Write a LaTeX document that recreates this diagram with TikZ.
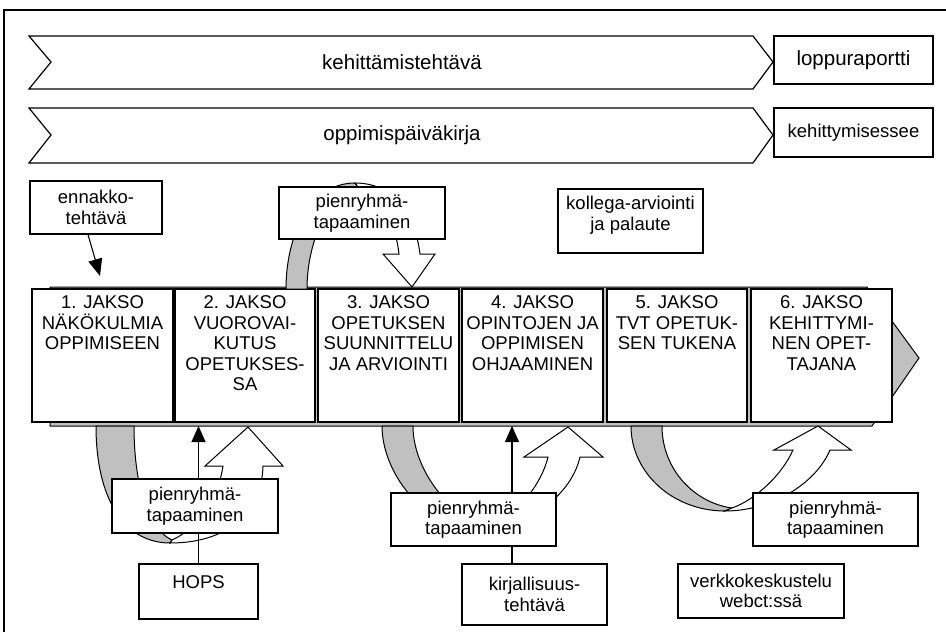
\documentclass[tikz,border=0pt]{standalone}
\usepackage{fontspec}
\setmainfont{Liberation Sans}
\usetikzlibrary{arrows.meta}
\definecolor{bandgray}{RGB}{192,192,192}
\begin{document}
\begin{tikzpicture}[x=1pt,y=-1pt,
  every node/.style={font=\fontsize{18.5}{20.5}\selectfont},
  box/.style={draw, line width=1.2pt, fill=white, inner sep=0pt, align=center},
  lbl/.style={align=center, inner sep=0pt},
  bigfont/.style={font=\fontsize{20.5}{24}\selectfont},
  graypart/.style={draw, fill=bandgray, line width=1pt, line join=round},
  whitepart/.style={draw, fill=white, line width=1pt, line join=miter},
  thinarrow/.style={line width=1.1pt, -{Triangle[length=16pt,width=14pt]}},
]
\clip (0,0) rectangle (946,632);
% frame
\draw[line width=1.6pt] (4,640) -- (4,10) -- (950,10);

% chevrons
\draw[line width=1.2pt] (29,36) -- (753,36) -- (773,62) -- (753,89) -- (29,89) -- (51,62) -- cycle;
\node[bigfont] (kt) at (402,62) {kehittämistehtävä};
\draw[line width=1.2pt] (29,108) -- (753,108) -- (773,135) -- (753,163) -- (29,163) -- (51,135) -- cycle;
\node[bigfont] (op) at (402,135) {oppimispäiväkirja};
\node[box, bigfont, minimum width=159pt, minimum height=48pt] (lr) at (853.5,60) {loppuraportti};
\node[box, minimum width=159pt, minimum height=49pt] (ke) at (853.5,132.5) {kehittymisessee};

% gray process arrow behind the period boxes
\draw[fill=bandgray, line width=1pt] (50,287) -- (867,287) -- (919,358) -- (872,426) -- (50,426) -- cycle;
\coordinate (barbot) at (0,426);

% period boxes
\node[box, minimum width=141pt, minimum height=133pt] (j1) at (102.5,355.5) {};
\node[box, minimum width=140pt, minimum height=133pt] (j2) at (245,355.5) {};
\node[box, minimum width=141pt, minimum height=133pt] (j3) at (388.5,355.5) {};
\node[box, minimum width=141pt, minimum height=133pt] (j4) at (532.5,355.5) {};
\node[box, minimum width=140pt, minimum height=133pt] (j5) at (677,355.5) {};
\node[box, minimum width=141pt, minimum height=133pt] (j6) at (821.5,355.5) {};
\node[lbl, anchor=north] (j1t) at ([yshift=-7pt]j1.north) {1. JAKSO\\NÄKÖKULMIA\\OPPIMISEEN};
\node[lbl, anchor=north] (j2t) at ([yshift=-7pt]j2.north) {2. JAKSO\\VUOROVAI-\\KUTUS\\OPETUKSES-\\SA};
\node[lbl, anchor=north] (j3t) at ([yshift=-7pt]j3.north) {3. JAKSO\\OPETUKSEN\\SUUNNITTELU\\JA ARVIOINTI};
\node[lbl, anchor=north] (j4t) at ([yshift=-7pt]j4.north) {4. JAKSO\\OPINTOJEN JA\\OPPIMISEN\\OHJAAMINEN};
\node[lbl, anchor=north] (j5t) at ([yshift=-7pt]j5.north) {5. JAKSO\\TVT OPETUK-\\SEN TUKENA};
\node[lbl, anchor=north] (j6t) at ([yshift=-7pt]j6.north) {6. JAKSO\\KEHITTYMI-\\NEN OPET-\\TAJANA};

% curved down arrow (top), from period 2 to period 3
\draw[graypart] (286,289) .. controls (286,235) and (310,183) .. (355,183)
  -- (358,187) .. controls (330,192) and (307,240) .. (307,289) -- cycle;
\draw[whitepart] (355,183) .. controls (395,183) and (415,215) .. (420,254)
  -- (435,254) -- (412,287) -- (383,254) -- (399,254)
  .. controls (395,220) and (380,190) .. (358,187) -- cycle;
\node[box, minimum width=166pt, minimum height=52pt] (pt) at (362,213) {pienryhmä-\\tapaaminen};

% curved up arrow 1 (under periods 1-2)
\draw[graypart] (96,426) .. controls (96,500) and (125,543) .. (170,543)
  -- (172,540) .. controls (150,530) and (134,490) .. (134,426) -- cycle;
\draw[whitepart] (172,540) .. controls (195,530) and (218,500) .. (223,466)
  -- (205,466) -- (248,427) -- (283,466) -- (263,466)
  .. controls (262,505) and (235,543) .. (170,543) -- cycle;

% curved up arrow 2 (under periods 3-4)
\draw[graypart] (382,426) .. controls (382,470) and (420,525) .. (475,530)
  -- (485,528) .. controls (450,515) and (413,470) .. (413,426) -- cycle;
\draw[whitepart] (485,528) .. controls (510,520) and (540,490) .. (548,457)
  -- (524,457) -- (568,427) -- (603,457) -- (580,457)
  .. controls (570,500) and (520,530) .. (475,530) -- cycle;

% curved up arrow 3 (under periods 5-6)
\draw[graypart] (631,426) .. controls (631,473) and (673,511) .. (725,511)
  -- (732,508) .. controls (695,503) and (662,470) .. (662,426) -- cycle;
\draw[whitepart] (732,508) .. controls (755,500) and (782,475) .. (793,450)
  -- (774,450) -- (818,426) -- (851,450) -- (830,450)
  .. controls (815,485) and (770,511) .. (725,511) -- cycle;

% lower boxes
\node[box, minimum width=119pt, minimum height=55pt] (hops) at (198.5,591.5) {};
\node[lbl, anchor=north] (hopst) at ([yshift=-12pt]hops.north) {HOPS};
\node[box, minimum width=145pt, minimum height=61pt] (kir) at (534.5,594.5) {kirjallisuus-\\tehtävä};
\coordinate (kirtop) at ([xshift=-22.5pt]kir.north);
\draw[thinarrow] (hops.north) -- (hops.north |- barbot);
\draw[thinarrow] (kirtop) -- (kirtop |- barbot);
\node[box, minimum width=166pt, minimum height=54pt] (pl) at (195,506) {pienryhmä-\\tapaaminen};
\node[box, minimum width=165pt, minimum height=53pt] (pm) at (473.5,519.5) {pienryhmä-\\tapaaminen};
\node[box, minimum width=165pt, minimum height=53pt] (pr) at (835.5,519.5) {pienryhmä-\\tapaaminen};
\node[box, minimum width=166pt, minimum height=54pt] (vk) at (761,591) {verkkokeskustelu\\webct:ssä};

% upper small boxes
\node[box, minimum width=132pt, minimum height=53pt] (en) at (96,207.5) {ennakko-\\tehtävä};
\coordinate (entip) at (100,276);
\draw[line width=1.1pt, -{Triangle[length=17pt,width=14pt]}] ([xshift=-8pt]en.south) -- (entip);
\node[box, minimum width=145pt, minimum height=64pt] (ko) at (630.5,221) {};
\node[lbl] (kot) at ([yshift=6pt]ko.center) {kollega-arviointi\\ja palaute};
\end{tikzpicture}
\end{document}
